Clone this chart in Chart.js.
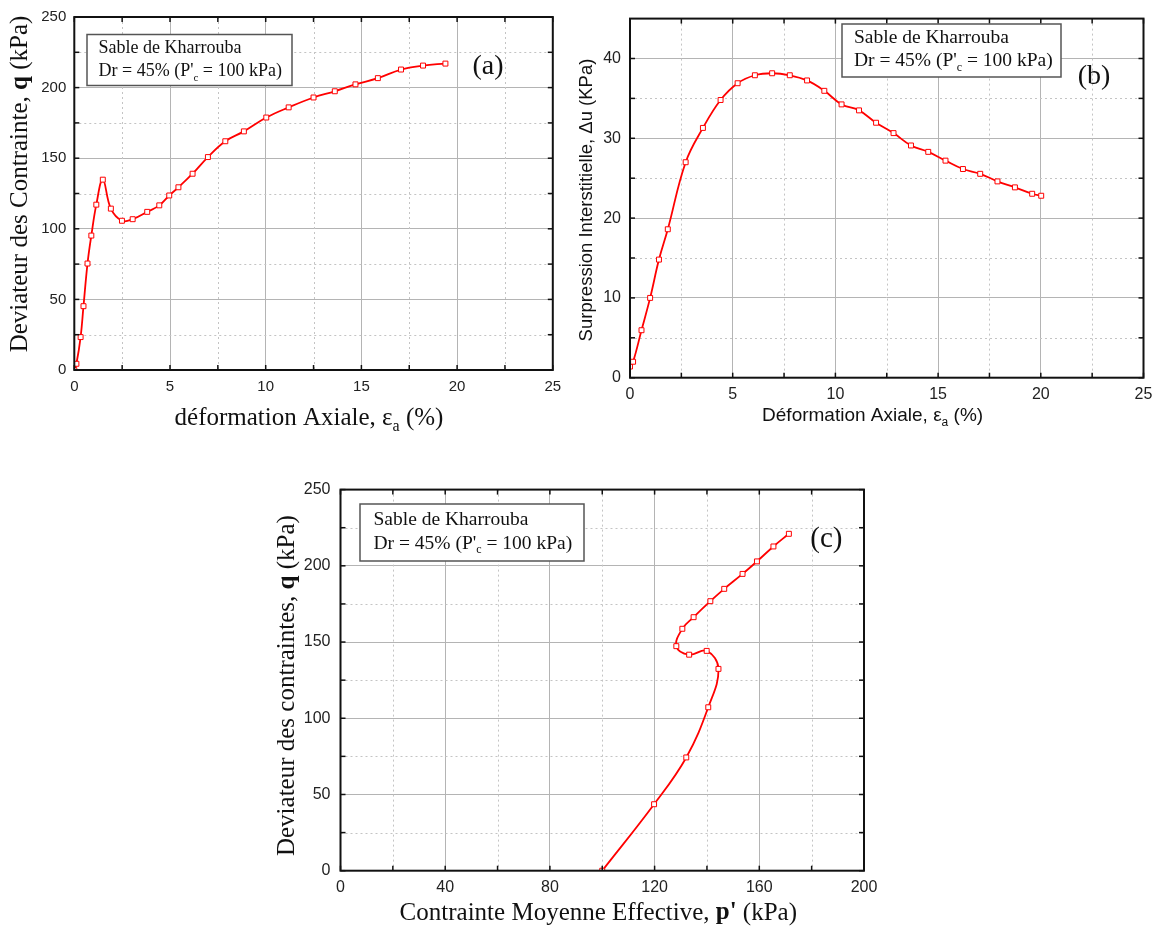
<!DOCTYPE html>
<html>
<head>
<meta charset="utf-8">
<script src="https://cdn.jsdelivr.net/npm/chart.js@4.4.0/dist/chart.umd.min.js"></script>
<style>
    html, body { margin: 0; padding: 0; background: #fff; overflow: hidden; }
    canvas { position: absolute; }
</style>
</head>
<body>
<canvas id="chartA" width="580" height="440" style="left:0px;top:0px"></canvas>
<canvas id="chartB" width="590" height="440" style="left:570px;top:0px"></canvas>
<canvas id="chartC" width="620" height="458" style="left:270px;top:470px"></canvas>
<script>
// (a) deviateur q (kPa) vs deformation axiale (%)
const aStrain = [0, 0.11, 0.33, 0.48, 0.69, 0.89, 1.15, 1.49, 1.91, 2.49, 3.05, 3.81, 4.44, 4.96, 5.44, 6.18, 6.98, 7.89, 8.86, 10.03, 11.2, 12.5, 13.61, 14.69, 15.86, 17.07, 18.22, 19.39];
const aQ = [0, 4.4, 23.3, 45.2, 75.4, 95.2, 117.1, 134.8, 114.3, 105.7, 106.8, 112, 116.6, 123.6, 129.4, 139, 150.8, 162, 169, 178.8, 186, 193, 197.4, 202.3, 206.7, 212.8, 215.6, 217];

// (b) surpression interstitielle du (kPa) vs deformation axiale (%)
const bStrain = [0, 0.15, 0.56, 0.98, 1.41, 1.84, 2.71, 3.55, 4.41, 5.24, 6.08, 6.92, 7.78, 8.62, 9.46, 10.3, 11.15, 11.98, 12.83, 13.68, 14.52, 15.36, 16.21, 17.05, 17.89, 18.74, 19.58, 20.02];
const bDu = [1.4, 2, 5.95, 10, 14.8, 18.6, 27, 31.3, 34.8, 36.9, 37.9, 38.15, 37.9, 37.25, 35.95, 34.25, 33.5, 31.95, 30.65, 29.1, 28.3, 27.2, 26.15, 25.55, 24.6, 23.85, 23.05, 22.8];

// (c) chemin de contraintes q vs p'
const cP = [100, 119.8, 132.1, 140.5, 144.4, 139.9, 133.2, 128.3, 130.6, 134.9, 141.3, 146.6, 153.6, 159.1, 165.4, 171.3];
const cQ = [0, 43.6, 74.3, 107.2, 132.4, 144.2, 141.7, 147.3, 158.7, 166.3, 176.8, 184.9, 194.7, 202.9, 212.7, 221];

const strainTicks = [0, 5, 10, 15, 20, 25];
const strainMinor = [2.5, 7.5, 12.5, 17.5, 22.5];
const qTicks = [0, 50, 100, 150, 200, 250];
const qMinor = [25, 75, 125, 175, 225];
const duTicks = [0, 10, 20, 30, 40];
const duMinor = [5, 15, 25, 35];
const pTicks = [0, 40, 80, 120, 160, 200];
const pMinor = [20, 60, 100, 140, 180];

const SERIF = '"Liberation Serif", "Times New Roman", serif';
const SANS = '"Liberation Sans", Arial, sans-serif';
const RED = "#ff0000";

const boxLine1 = [{t: "Sable de Kharrouba"}];
const boxLine2 = [{t: "Dr = 45% (P'"}, {t: "c", sub: true}, {t: " = 100 kPa)"}];

// draw a run of text pieces (normal / bold / subscript)
function rich(ctx, parts, size, family, x, y, angle, align) {
    ctx.save();
    ctx.translate(x, y);
    ctx.rotate(angle || 0);
    ctx.textBaseline = "middle";
    ctx.textAlign = "left";
    ctx.fillStyle = "#111";
    const fontOf = p => (p.b ? "bold " : "") + (p.sub ? Math.round(size * 0.62) : size) + "px " + family;
    let w = 0;
    parts.forEach(p => { ctx.font = fontOf(p); w += ctx.measureText(p.t).width; });
    let cx = align === "left" ? 0 : -w / 2;
    parts.forEach(p => {
        ctx.font = fontOf(p);
        ctx.fillText(p.t, cx, p.sub ? size * 0.34 : 0);
        cx += ctx.measureText(p.t).width;
    });
    ctx.restore();
}

function seg(ctx, x1, y1, x2, y2) {
    ctx.beginPath();
    ctx.moveTo(x1, y1);
    ctx.lineTo(x2, y2);
    ctx.stroke();
}

function decor(o) {
    return {
        id: "decor",
        beforeDatasetsDraw(chart) {
            const {ctx, chartArea: a, scales: {x, y}} = chart;
            ctx.save();
            ctx.strokeStyle = "#c4c4c4";
            ctx.lineWidth = 1;
            ctx.setLineDash([2, 3]);
            o.xMinor.forEach(v => { const px = Math.round(x.getPixelForValue(v)) + 0.5; seg(ctx, px, a.top, px, a.bottom); });
            o.yMinor.forEach(v => { const py = Math.round(y.getPixelForValue(v)) + 0.5; seg(ctx, a.left, py, a.right, py); });
            ctx.restore();
        },
        afterDraw(chart) {
            const {ctx, chartArea: a, scales: {x, y}} = chart;
            ctx.save();
            // inward tick marks on all four sides
            ctx.strokeStyle = "#111";
            ctx.lineWidth = 1.5;
            o.xTicks.concat(o.xMinor).forEach(v => {
                const px = x.getPixelForValue(v);
                seg(ctx, px, a.bottom, px, a.bottom - 5);
                seg(ctx, px, a.top, px, a.top + 5);
            });
            o.yTicks.concat(o.yMinor).forEach(v => {
                const py = y.getPixelForValue(v);
                seg(ctx, a.left, py, a.left + 5, py);
                seg(ctx, a.right, py, a.right - 5, py);
            });
            // frame
            ctx.lineWidth = 2;
            ctx.strokeRect(a.left, a.top, a.right - a.left, a.bottom - a.top);
            // annotation box
            const b = o.box;
            ctx.fillStyle = "#fff";
            ctx.fillRect(b.x, b.y, b.w, b.h);
            ctx.strokeStyle = "#555";
            ctx.lineWidth = 1.5;
            ctx.strokeRect(b.x, b.y, b.w, b.h);
            ctx.restore();
            rich(ctx, boxLine1, b.fs, SERIF, b.tx, b.l1, 0, "left");
            rich(ctx, boxLine2, b.fs, SERIF, b.tx, b.l2, 0, "left");
            rich(ctx, [{t: o.tag.t}], o.tag.fs, SERIF, o.tag.x, o.tag.y);
            // axis titles
            rich(ctx, o.xTitle.parts, o.xTitle.fs, o.xTitle.fam, o.xTitle.x, o.xTitle.y);
            rich(ctx, o.yTitle.parts, o.yTitle.fs, o.yTitle.fam, o.yTitle.x, o.yTitle.y, -Math.PI / 2);
        }
    };
}

function makeChart(id, xs, ys, o) {
    return new Chart(document.getElementById(id), {
        type: "scatter",
        data: {
            datasets: [{
                data: xs.map((v, i) => ({x: v, y: ys[i]})),
                showLine: true,
                borderColor: RED,
                borderWidth: 1.8,
                tension: 0.4,
                pointStyle: "rect",
                pointRadius: 3.5,
                pointBorderWidth: 1,
                pointBorderColor: RED,
                pointBackgroundColor: "#fff"
            }]
        },
        options: {
            responsive: false,
            animation: false,
            devicePixelRatio: 1,
            layout: {padding: o.pad},
            plugins: {legend: {display: false}, tooltip: {enabled: false}},
            scales: {
                x: {
                    type: "linear", min: o.xMin, max: o.xMax,
                    afterBuildTicks: s => { s.ticks = o.xTicks.map(v => ({value: v})); },
                    afterFit: s => { s.height = o.xH; },
                    grid: {color: "#b4b4b4", lineWidth: 1, drawTicks: false},
                    border: {display: false},
                    ticks: {font: {family: SANS, size: o.fs}, color: "#222", padding: o.xPad, maxRotation: 0, autoSkip: false}
                },
                y: {
                    type: "linear", min: o.yMin, max: o.yMax,
                    afterBuildTicks: s => { s.ticks = o.yTicks.map(v => ({value: v})); },
                    afterFit: s => { s.width = o.yW; },
                    grid: {color: "#b4b4b4", lineWidth: 1, drawTicks: false},
                    border: {display: false},
                    ticks: {font: {family: SANS, size: o.fs}, color: "#222", padding: o.yPad, autoSkip: false}
                }
            }
        },
        plugins: [decor(o)]
    });
}

makeChart("chartA", aStrain, aQ, {
    xMin: 0, xMax: 25, yMin: 0, yMax: 250,
    xTicks: strainTicks, xMinor: strainMinor, yTicks: qTicks, yMinor: qMinor,
    pad: {left: 0, top: 13.5, right: 27.2, bottom: 0}, yW: 74.3, xH: 70,
    fs: 15, xPad: 8, yPad: 8,
    box: {x: 87, y: 34.5, w: 205, h: 51, tx: 98.5, l1: 48.5, l2: 71.5, fs: 18},
    tag: {t: "(a)", x: 488, y: 67, fs: 28},
    xTitle: {fam: SERIF, fs: 25, x: 309, y: 418, parts: [{t: "déformation Axiale, ε"}, {t: "a", sub: true}, {t: " (%)"}]},
    yTitle: {fam: SERIF, fs: 25, x: 20.5, y: 184, parts: [{t: "Deviateur des Contrainte, "}, {t: "q", b: true}, {t: " (kPa)"}]}
});

makeChart("chartB", bStrain, bDu, {
    xMin: 0, xMax: 25, yMin: 0, yMax: 45,
    xTicks: strainTicks, xMinor: strainMinor, yTicks: duTicks, yMinor: duMinor,
    pad: {left: 0, top: 10, right: 16.5, bottom: 0}, yW: 60, xH: 62.3,
    fs: 16, xPad: 7, yPad: 9,
    box: {x: 272, y: 24, w: 219, h: 53, tx: 284, l1: 37.5, l2: 61, fs: 19.5},
    tag: {t: "(b)", x: 524, y: 77, fs: 28},
    xTitle: {fam: SANS, fs: 19, x: 302.6, y: 416, parts: [{t: "Déformation Axiale, ε"}, {t: "a", sub: true}, {t: " (%)"}]},
    yTitle: {fam: SANS, fs: 18.5, x: 16.7, y: 200, parts: [{t: "Surpression Interstitielle, Δu (KPa)"}]}
});

makeChart("chartC", cP, cQ, {
    xMin: 0, xMax: 200, yMin: 0, yMax: 250,
    xTicks: pTicks, xMinor: pMinor, yTicks: qTicks, yMinor: qMinor,
    pad: {left: 0, top: 15.2, right: 26, bottom: 0}, yW: 70.5, xH: 57.3,
    fs: 16, xPad: 7, yPad: 10,
    box: {x: 90, y: 34, w: 224, h: 57, tx: 103.5, l1: 50.3, l2: 73.5, fs: 19.5},
    tag: {t: "(c)", x: 556.4, y: 69, fs: 29},
    xTitle: {fam: SERIF, fs: 25, x: 328.3, y: 443, parts: [{t: "Contrainte Moyenne Effective, "}, {t: "p'", b: true}, {t: " (kPa)"}]},
    yTitle: {fam: SERIF, fs: 25, x: 17.5, y: 215.6, parts: [{t: "Deviateur des contraintes, "}, {t: "q", b: true}, {t: " (kPa)"}]}
});
</script>
</body>
</html>
